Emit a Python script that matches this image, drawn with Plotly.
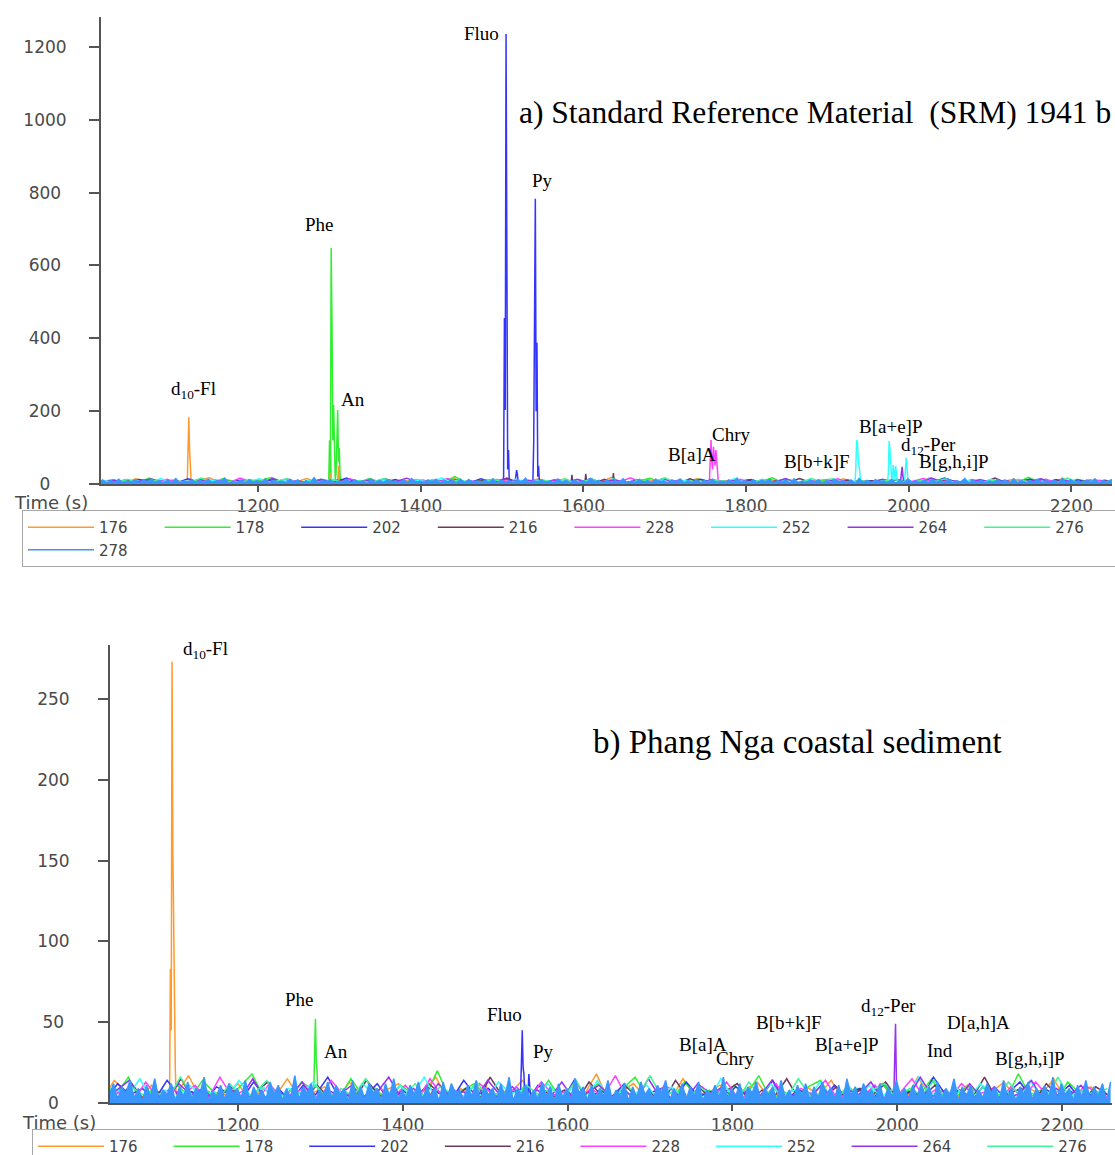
import numpy as np
import plotly.graph_objects as go

W, H = 1115, 1155

CHANNELS = ["176", "178", "202", "216", "228", "252", "264", "276", "278"]
COLORS = ["#FF9A2E", "#30EE30", "#3434FF", "#6B3A5C", "#FF40FF",
          "#30FFFF", "#9A30F0", "#40F596", "#3A96FF"]

TIME_TICKS = [1200, 1400, 1600, 1800, 2000, 2200]
Y_TICKS_A = [0, 200, 400, 600, 800, 1000, 1200]
Y_TICKS_B = [0, 50, 100, 150, 200, 250]

# ---- baseline noise (estimated by eye), sampled on a regular grid ----
NOISE_STEP_278 = 5
NOISE_STEP = 15
NOISE_START = {"176": 1005, "178": 1007, "202": 1009, "216": 1011, "228": 1013,
               "252": 1006, "264": 1008, "276": 1010, "278": 1004}

NOISE_278 = [3, 11, 2, 9, 4, 13, 1, 8, 5, 12, 2, 10, 6, 14, 3, 9, 1, 11, 4, 15, 2, 8, 5, 12,
             1, 10, 3, 13, 2, 9, 6, 16, 1, 7, 4, 11, 2, 12, 5, 9, 3, 14, 1, 10, 4, 8, 2, 13,
             5, 11, 1, 9, 3, 17, 2, 10, 6, 12, 1, 8, 4, 13, 2, 11, 5, 9, 1, 14, 3, 10, 2, 12,
             6, 9, 1, 12, 4, 15, 2, 8, 3, 11, 5, 13, 2, 10, 4, 9, 1, 13, 3, 12, 6, 8, 2, 11,
             3, 14, 1, 10, 5, 9, 2, 12, 4, 16, 1, 9, 5, 11, 3, 8, 2, 13, 4, 10, 1, 12, 3, 9,
             2, 15, 6, 10, 1, 11, 3, 9, 4, 14, 2, 8, 4, 12, 1, 10, 3, 13, 5, 9, 2, 11, 6, 14,
             1, 9, 3, 12, 2, 10, 4, 13, 1, 8, 5, 11, 3, 16, 2, 9, 4, 12, 1, 10, 6, 13, 2, 9,
             5, 10, 1, 14, 3, 8, 2, 11, 4, 12, 1, 10, 2, 13, 5, 9, 3, 11, 1, 15, 4, 10, 2, 12,
             6, 8, 2, 12, 1, 10, 3, 14, 5, 9, 2, 11, 3, 12, 4, 10, 1, 13, 2, 9, 5, 15, 1, 10,
             4, 11, 2, 8, 3, 12, 6, 10, 1, 14, 3, 9, 1, 10, 5, 13, 2, 9, 4, 11, 3, 16, 2, 12,
             5, 9, 1, 11, 3, 14, 2, 10, 4, 12, 1, 13]
NOISE_176 = [4, 9, 2, 14, 6, 1, 11, 3, 8, 17, 2, 7, 5, 12, 1, 9, 4, 15, 3, 6, 10, 2, 13, 5,
             1, 8, 12, 3, 7, 16, 2, 9, 4, 11, 1, 6, 14, 3, 8, 2, 10, 5, 18, 1, 7, 12, 3, 9,
             2, 15, 4, 6, 11, 1, 8, 13, 3, 7, 2, 10, 5, 14, 1, 9, 3, 12, 6, 2, 16, 4, 8, 1,
             11, 3, 7, 13, 2, 9, 5, 15, 1, 6, 10, 4]
NOISE_178 = [7, 2, 12, 5, 16, 1, 9, 4, 11, 3, 14, 6, 2, 10, 18, 3, 8, 1, 13, 5, 7, 2, 15, 4,
             9, 1, 11, 6, 3, 20, 2, 8, 12, 4, 6, 1, 10, 3, 14, 2, 7, 5, 12, 1, 9, 16, 3, 6,
             2, 13, 4, 8, 1, 11, 5, 17, 2, 7, 3, 10, 14, 1, 6, 9, 3, 12, 2, 8, 5, 15, 1, 4,
             11, 3, 7, 2, 18, 4, 9, 1, 13, 6, 2, 8]
NOISE_202 = [3, 8, 1, 12, 5, 9, 2, 14, 4, 7, 1, 10, 6, 2, 13, 3, 9, 1, 11, 5, 16, 2, 7, 4,
             12, 1, 8, 3, 10, 6, 2, 14, 4, 9, 1, 7, 3, 11, 5, 2, 15, 1, 8, 4, 12, 3, 6, 9,
             1, 13, 4, 7, 2, 10, 5, 3, 14, 1, 8, 6, 2, 11, 3, 9, 1, 12, 4, 7, 2, 16, 5, 8,
             1, 10, 3, 6, 13, 2, 9, 4, 11, 1, 7, 5]
NOISE_216 = [5, 1, 9, 3, 12, 2, 7, 4, 15, 1, 8, 3, 10, 2, 6, 13, 1, 9, 4, 11, 3, 7, 2, 14,
             5, 1, 8, 3, 12, 6, 2, 9, 1, 16, 4, 7, 2, 11, 3, 8, 1, 13, 5, 2, 10, 4, 6, 1,
             14, 3, 9, 2, 7, 12, 1, 8, 4, 15, 2, 6, 3, 10, 1, 9, 5, 13, 2, 7, 4, 11, 1, 8,
             3, 16, 2, 6, 9, 1, 12, 4, 7, 2, 10, 5]
NOISE_228 = [2, 10, 4, 7, 1, 13, 3, 9, 5, 11, 2, 16, 4, 8, 1, 12, 3, 6, 10, 2, 14, 5, 7, 1,
             9, 3, 11, 2, 15, 4, 8, 1, 12, 6, 3, 10, 2, 13, 5, 7, 1, 9, 4, 17, 2, 8, 3, 11,
             6, 1, 10, 4, 13, 2, 7, 3, 12, 1, 9, 5, 14, 2, 8, 4, 11, 1, 6, 15, 3, 9, 2, 12,
             5, 7, 1, 10, 3, 13, 4, 8, 2, 11, 6, 3]
NOISE_252 = [6, 12, 2, 9, 4, 15, 1, 8, 3, 11, 5, 7, 2, 14, 4, 10, 1, 9, 6, 13, 3, 8, 2, 12,
             5, 1, 11, 4, 16, 2, 7, 3, 10, 1, 13, 6, 8, 2, 12, 4, 9, 1, 14, 3, 7, 5, 11, 2,
             10, 4, 6, 1, 15, 3, 9, 2, 12, 5, 8, 1, 13, 3, 7, 2, 11, 4, 9, 1, 16, 6, 3, 10,
             2, 12, 5, 8, 1, 14, 3, 9, 4, 7, 2, 11]
NOISE_264 = [4, 11, 1, 8, 14, 3, 6, 2, 12, 5, 9, 1, 10, 3, 15, 2, 7, 4, 13, 1, 8, 5, 11, 2,
             6, 16, 3, 9, 1, 12, 4, 7, 2, 14, 5, 10, 1, 8, 3, 13, 2, 6, 11, 4, 9, 1, 15, 3,
             7, 2, 12, 5, 10, 1, 8, 4, 14, 2, 6, 3, 11, 1, 9, 5, 13, 2, 7, 3, 16, 4, 8, 1,
             12, 3, 10, 2, 6, 14, 1, 9, 4, 11, 2, 7]
NOISE_276 = [8, 3, 13, 1, 10, 5, 7, 2, 16, 4, 9, 1, 12, 3, 6, 14, 2, 8, 5, 11, 1, 9, 4, 15,
             2, 7, 3, 12, 1, 10, 6, 4, 13, 2, 8, 1, 11, 5, 9, 3, 14, 2, 6, 1, 12, 4, 17, 3,
             8, 2, 10, 5, 7, 1, 13, 3, 9, 2, 15, 4, 6, 1, 11, 3, 8, 12, 2, 9, 5, 14, 1, 7,
             3, 10, 2, 13, 4, 6, 1, 16, 3, 8, 5, 9]

NOISE = {"176": NOISE_176, "178": NOISE_178, "202": NOISE_202, "216": NOISE_216,
         "228": NOISE_228, "252": NOISE_252, "264": NOISE_264, "276": NOISE_276,
         "278": NOISE_278}

# ---- peaks, panel a (SRM 1941b): groups of (time s, intensity) ----
PEAKS_A_176 = [[(1113, 3), (1114, 95), (1115, 183), (1116, 88), (1117, 48), (1118, 4)],
               [(1288, 4), (1289, 115), (1290, 8)],
               [(1298, 4), (1299, 50), (1300, 5)]]
PEAKS_A_178 = [[(1287, 4), (1288, 120), (1289, 30), (1290, 648), (1291, 440), (1292, 120),
                (1293, 217), (1294, 40), (1295, 10), (1296, 30), (1297, 107), (1298, 203),
                (1299, 60), (1300, 99), (1301, 20), (1302, 4)]]
PEAKS_A_202 = [[(1501, 4), (1502, 20), (1503, 456), (1504, 203), (1505, 1235), (1506, 618),
                (1507, 40), (1508, 93), (1509, 5)],
               [(1516, 4), (1517, 20), (1518, 38), (1519, 25), (1520, 4)],
               [(1538, 4), (1539, 113), (1540, 597), (1541, 783), (1542, 200), (1543, 388),
                (1544, 20), (1545, 50), (1546, 4)]]
PEAKS_A_216 = [[(1585, 3), (1586, 25), (1587, 4)],
               [(1602, 3), (1603, 28), (1604, 5)],
               [(1636, 3), (1637, 30), (1638, 4)]]
PEAKS_A_228 = [[(1755, 5), (1756, 70), (1757, 121), (1758, 60), (1759, 40), (1760, 102),
                (1761, 70), (1762, 50), (1763, 93), (1764, 60), (1765, 30), (1766, 5)]]
PEAKS_A_252 = [[(1934, 5), (1935, 40), (1936, 121), (1937, 115), (1938, 70), (1939, 55),
                (1940, 30), (1941, 5)],
               [(1974, 5), (1975, 30), (1976, 118), (1977, 95), (1978, 40), (1979, 20),
                (1980, 10), (1981, 52), (1982, 30), (1983, 15), (1984, 50), (1985, 20),
                (1986, 5)],
               [(1995, 5), (1996, 50), (1997, 72), (1998, 45), (1999, 10)]]
PEAKS_A_264 = [[(1990, 4), (1991, 30), (1992, 47), (1993, 20), (1994, 4)]]

PEAKS_A = {"176": PEAKS_A_176, "178": PEAKS_A_178, "202": PEAKS_A_202, "216": PEAKS_A_216,
           "228": PEAKS_A_228, "252": PEAKS_A_252, "264": PEAKS_A_264}

# ---- peaks, panel b (Phang Nga coastal sediment) ----
PEAKS_B_176 = [[(1117, 6), (1118, 83), (1119, 45), (1120, 273), (1121, 155), (1122, 90),
                (1123, 78), (1124, 20), (1125, 5)]]
PEAKS_B_178 = [[(1292, 8), (1293, 30), (1294, 52), (1295, 26), (1296, 20), (1297, 6)]]
PEAKS_B_202 = [[(1543, 8), (1544, 25), (1545, 45), (1546, 22), (1547, 18), (1548, 5)],
               [(1552, 6), (1553, 18), (1554, 12), (1555, 4)]]
PEAKS_B_264 = [[(1996, 6), (1997, 24), (1998, 49), (1999, 15), (2000, 5)]]

PEAKS_B = {"176": PEAKS_B_176, "178": PEAKS_B_178, "202": PEAKS_B_202, "264": PEAKS_B_264}

# ---- peak labels: (text, time, intensity) ----
LABELS_A = [("d<sub>10</sub>-Fl", 1121, 258), ("Phe", 1276, 711), ("An", 1317, 231),
            ("Fluo", 1475, 1238), ("Py", 1550, 832), ("B[a]A", 1734, 80),
            ("Chry", 1782, 137), ("B[b+k]F", 1887, 63), ("B[a+e]P", 1978, 159),
            ("d<sub>12</sub>-Per", 2024, 104), ("B[g,h,i]P", 2056, 63)]
LABELS_B = [("d<sub>10</sub>-Fl", 1160, 280), ("Phe", 1275, 64), ("An", 1319, 32),
            ("Fluo", 1524, 54.5), ("Py", 1571, 31.6), ("B[a]A", 1764, 36.5),
            ("Chry", 1804, 27.8), ("B[b+k]F", 1869, 50), ("B[a+e]P", 1938, 36.5),
            ("d<sub>12</sub>-Per", 1989, 59.4), ("Ind", 2052, 32.2),
            ("D[a,h]A", 2099, 50), ("B[g,h,i]P", 2161, 27.8)]
TITLE_A = "a) Standard Reference Material&nbsp; (SRM) 1941 b"
TITLE_B = "b) Phang Nga coastal sediment"


def build_series(ch, peaks):
    step = NOISE_STEP_278 if ch == "278" else NOISE_STEP
    vals = np.array(NOISE[ch], dtype=float)
    t = NOISE_START[ch] + step * np.arange(len(vals))
    keep = np.ones(len(t), dtype=bool)
    pt, pv = [], []
    for grp in peaks.get(ch, []):
        gt = [p[0] for p in grp]
        keep &= ~((t >= min(gt) - 1) & (t <= max(gt) + 1))
        pt += gt
        pv += [p[1] for p in grp]
    tt = np.concatenate([t[keep], np.array(pt, dtype=float)])
    vv = np.concatenate([vals[keep], np.array(pv, dtype=float)])
    order = np.argsort(tt, kind="stable")
    return tt[order], vv[order]


def centered_ticktext(vals):
    """Pad labels on the right with figure/punctuation spaces so that the
    right-aligned y tick labels appear centred, as in the reference."""
    labels = [str(v) for v in vals]
    n = max(len(s) for s in labels)
    out = []
    for s in labels:
        d = n - len(s)
        out.append(s + "\u2007" * (d // 2) + ("\u2008" if d % 2 else ""))
    return out


fig = go.Figure()
for panel, peaks, xa, ya, leg in (("a", PEAKS_A, "x", "y", "legend"),
                                  ("b", PEAKS_B, "x2", "y2", "legend2")):
    for ch, col in zip(CHANNELS, COLORS):
        tt, vv = build_series(ch, peaks)
        if ch == "278":
            # dense baseline band of the last channel (drawn beneath its line)
            fig.add_trace(go.Scatter(x=tt, y=vv, mode="lines", fill="tozeroy",
                                     fillcolor=col, line=dict(color=col, width=0),
                                     xaxis=xa, yaxis=ya, showlegend=False,
                                     hoverinfo="skip"))
        fig.add_trace(go.Scatter(x=tt, y=vv, mode="lines", name=ch,
                                 line=dict(color=col, width=1.5),
                                 xaxis=xa, yaxis=ya, legend=leg, hoverinfo="skip"))

TICKFONT = dict(family="DejaVu Sans", size=17, color="#4a4a4a")
AXCOL = "#555555"


def xaxis(domain, rng, anchor):
    return dict(domain=domain, range=rng, anchor=anchor, tickvals=TIME_TICKS,
                ticks="outside", ticklen=6, tickwidth=2, tickcolor=AXCOL,
                showline=True, linecolor=AXCOL, linewidth=2, showgrid=False,
                zeroline=False, tickfont=TICKFONT)


def yaxis(domain, rng, anchor, tv, standoff):
    return dict(domain=domain, range=rng, anchor=anchor, tickvals=tv,
                ticktext=centered_ticktext(tv),
                ticks="outside", ticklen=10, tickwidth=2, tickcolor=AXCOL,
                showline=True, linecolor=AXCOL, linewidth=2, showgrid=False,
                zeroline=False, tickfont=TICKFONT, ticklabelstandoff=standoff)


LEGFONT = dict(family="DejaVu Sans", size=15, color="#444444")


def legend(x, y, entrywidth):
    return dict(orientation="h", x=x, y=y, xanchor="left", yanchor="top",
                bordercolor="#a8a8a8", borderwidth=1, font=LEGFONT, itemwidth=66,
                entrywidth=entrywidth, entrywidthmode="pixels", bgcolor="rgba(0,0,0,0)",
                tracegroupgap=0, itemclick=False, itemdoubleclick=False)


SERIF = "Liberation Serif"
annotations = []
for text, t, v in LABELS_A:
    annotations.append(dict(text=text, x=t, y=v, xref="x", yref="y", showarrow=False,
                            font=dict(family=SERIF, size=19, color="black")))
for text, t, v in LABELS_B:
    annotations.append(dict(text=text, x=t, y=v, xref="x2", yref="y2", showarrow=False,
                            font=dict(family=SERIF, size=19, color="black")))
annotations.append(dict(text=TITLE_A, x=1518, y=1019, xref="x", yref="y", xanchor="left",
                        showarrow=False, font=dict(family=SERIF, size=31.5, color="black")))
annotations.append(dict(text=TITLE_B, x=1628, y=223, xref="x2", yref="y2", xanchor="left",
                        showarrow=False, font=dict(family=SERIF, size=33, color="black")))
annotations.append(dict(text="Time (s)", x=12 / W, y=1 - 502 / H, xref="paper", yref="paper",
                        xanchor="left", yanchor="middle", showarrow=False,
                        font=dict(family="DejaVu Sans", size=18, color="#4a4a4a")))
annotations.append(dict(text="Time (s)", x=20 / W, y=1 - 1122 / H, xref="paper", yref="paper",
                        xanchor="left", yanchor="middle", showarrow=False,
                        font=dict(family="DejaVu Sans", size=18, color="#4a4a4a")))

fig.update_layout(
    width=W, height=H, margin=dict(l=0, r=0, t=0, b=0, pad=0, autoexpand=False),
    paper_bgcolor="white", plot_bgcolor="white", showlegend=True,
    xaxis=xaxis([101 / W, 1112 / W], [1007, 2250], "y"),
    yaxis=yaxis([1 - 484 / H, 1 - 17 / H], [0, 1282], "x", Y_TICKS_A, 19),
    xaxis2=xaxis([110 / W, 1112 / W], [1044.7, 2260.7], "y2"),
    yaxis2=yaxis([1 - 1103 / H, 1 - 645 / H], [0, 283.4], "x2", Y_TICKS_B, 25),
    legend=legend(22 / W, 1 - 510 / H, 55.6),
    legend2=legend(32 / W, 1 - 1129 / H, 54.6),
    annotations=annotations,
)

fig.write_html("out.html")
